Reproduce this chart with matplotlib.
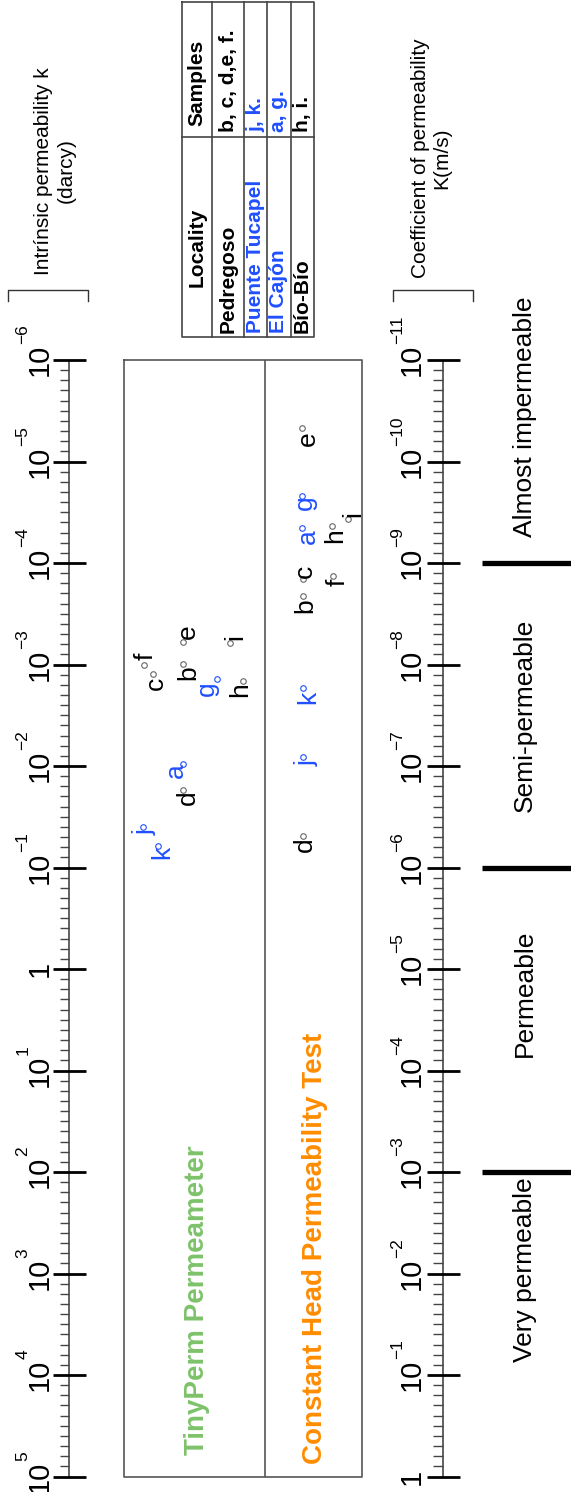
import numpy as np
import matplotlib.pyplot as plt

plt.rcParams['font.family'] = ['Liberation Sans', 'DejaVu Sans']

# --- data: intrinsic permeability k (darcy) per sample and method ---
samples = ['a', 'b', 'c', 'd', 'e', 'f', 'g', 'h', 'i', 'j', 'k']
k_tinyperm = [9.5e-3, 9.9e-4, 1.24e-3, 1.72e-2, 5.96e-4, 1.02e-3,
              1.39e-3, 1.46e-3, 6.2e-4, 3.98e-2, 6.1e-2]
k_constant_head = [4.49e-5, 2.11e-4, 1.45e-4, 4.9e-2, 4.7e-6, 1.33e-4,
                   2.19e-5, 4.3e-5, 3.7e-5, 8.2e-3, 1.72e-3]

localities = ['Pedregoso', 'Puente Tucapel', 'El Cajón', 'Bío-Bío']
locality_samples = ['b, c, d,e, f.', 'j, k.', 'a, g.', 'h, i.']
locality_members = [['b', 'c', 'd', 'e', 'f'], ['j', 'k'], ['a', 'g'], ['h', 'i']]
locality_colors = ['black', '#1f4fff', '#1f4fff', 'black']

class_names = ['Almost impermeable', 'Semi-permeable', 'Permeable', 'Very permeable']
class_limits_K = [1e-9, 1e-6, 1e-3]   # m/s
darcy_to_ms = 1e-5                      # 1 darcy ~ 1e-5 m/s
k_exponents = list(range(-6, 6))        # darcy axis 1e-6 .. 1e5

# --- layout (pixels) ---
W, H = 571, 1492
Y0, PXDEC = 360, 101.5                  # pixel of 1e-6 darcy, pixels per decade

# x position of every sample inside its panel
x_tiny = {'a': 183, 'b': 183, 'c': 153, 'd': 183, 'e': 183, 'f': 144,
          'g': 217, 'h': 243, 'i': 230, 'j': 143, 'k': 158}
x_head = {'a': 302, 'b': 303, 'c': 303, 'd': 303, 'e': 302, 'f': 333,
          'g': 302, 'h': 332, 'i': 348, 'j': 303, 'k': 303}
# letter offset from the point (px): baseline shift in x, centre shift in y
off_tiny = {'a': (0, 7), 'b': (12, 9), 'c': (10, 9), 'd': (12, 8), 'e': (12, -10),
            'f': (9, -9), 'g': (-3, 10), 'h': (4, 8), 'i': (12, -6), 'j': (9, 5),
            'k': (11, 7)}
off_head = {'a': (13, 9), 'b': (9, 10), 'c': (9, -8), 'd': (9, 9), 'e': (13, 10),
            'f': (12, 7), 'g': (10, 7), 'h': (10, 10), 'i': (12, -5), 'j': (11, 6),
            'k': (12, 9)}

color_of = {}
for members, col in zip(locality_members, locality_colors):
    for s in members:
        color_of[s] = col

fig = plt.figure(figsize=(W / 100, H / 100), dpi=100)

# layout axes in pixel units
lay = fig.add_axes([0, 0, 1, 1])
lay.set_xlim(0, W)
lay.set_ylim(H, 0)
lay.axis('off')

# data axes: log scale of k, mapped so 1e-6 sits at Y0
ax = fig.add_axes([0, 0, 1, 1])
ax.set_facecolor('none')
ax.set_yscale('log')
ax.set_xlim(0, W)
ax.set_ylim(10 ** (-6 + (H - Y0) / PXDEC), 10 ** (-6 - Y0 / PXDEC))
ax.axis('off')

k_major = [10.0 ** e for e in k_exponents]
k_minor = [10.0 ** (e + i / 10) for e in k_exponents[:-1] for i in range(1, 10)]
kmin, kmax = k_major[0], k_major[-1]

# --- left (darcy) and right (m/s) scales ---
for xs, xm0, xm1, xn0, txt_x, exp_x, shift in [(69, 53, 86, 60, 40, 23, 0),
                                              (443, 427, 460, 433, 412, 398, 5)]:
    ax.vlines(xs, kmin, kmax, color='#555555', lw=1.3)
    ax.hlines(k_major, xm0, xm1, color='black', lw=2)
    ax.hlines(k_minor, xn0, xs, color='#444444', lw=1)
    for e in k_exponents:
        ee = e - shift
        kk = 10.0 ** e
        if ee == 0:
            ax.text(txt_x, kk, '1', rotation=90, ha='center', va='center', fontsize=21)
            continue
        ax.text(txt_x, kk, '10', rotation=90, ha='center', va='center', fontsize=21)
        ax.annotate(str(ee).replace('-', '\u2212'), xy=(exp_x, kk), xytext=(0, 11.5),
                    textcoords='offset points', rotation=90, ha='center',
                    va='bottom', fontsize=12.5)

# brackets and axis titles
lay.plot([8, 8, 88, 88], [301, 290, 290, 301], color='#333333', lw=1)
lay.plot([393, 393, 473, 473], [301, 290, 290, 301], color='#333333', lw=1)
lay.text(55, 171, 'Intrínsic permeability k\n(darcy)', rotation=90, ha='center',
         va='center', fontsize=15, multialignment='center')
lay.text(431, 158, 'Coefficient of permeability\nK(m/s)', rotation=90, ha='center',
         va='center', fontsize=15, multialignment='center')

# --- panel frame ---
ax.plot([124, 362, 362, 124, 124], [kmin, kmin, kmax, kmax, kmin], color='#555555', lw=1.2)
ax.vlines(265, kmin, kmax, color='#555555', lw=1.2)
lay.text(197, 1300, 'TinyPerm Permeameter', rotation=90, ha='center', va='center',
         fontsize=20, fontweight='bold', color='#7dc36b')
lay.text(315, 1248, 'Constant Head Permeability Test', rotation=90, ha='center',
         va='center', fontsize=20, fontweight='bold', color='#ff8c00')

# --- samples ---
for kvals, xpos, offs in [(k_tinyperm, x_tiny, off_tiny), (k_constant_head, x_head, off_head)]:
    for s, kv in zip(samples, kvals):
        col = color_of[s]
        ax.plot(xpos[s], kv, 'o', ms=4, mfc='white', mew=0.8,
                mec='#666666' if col == 'black' else col)
        dx, dy = offs[s]
        ax.annotate(s, xy=(xpos[s], kv), xytext=(dx * 0.72, -dy * 0.72),
                    textcoords='offset points', rotation=90, rotation_mode='anchor',
                    ha='center', va='baseline', fontsize=19, color=col)

# --- permeability classes ---
ax.hlines([K / darcy_to_ms for K in class_limits_K], 482, W + 5, color='black', lw=3.8)
for name, yy in zip(class_names, [417, 715, 993, 1270]):
    lay.text(525, yy, name, rotation=90, ha='center', va='center', fontsize=19)

# --- locality table ---
rows_x = [182, 212.3, 244, 267.3, 290.7, 314]
lay.plot([182, 314, 314, 182, 182], [2, 2, 337, 337, 2], color='#444444', lw=1.2)
for rx in rows_x[1:-1]:
    lay.plot([rx, rx], [2, 337], color='#444444', lw=1.2)
lay.plot([182, 314], [136.7, 136.7], color='#444444', lw=1.2)
lay.text(197, 247, 'Locality', rotation=90, ha='center', va='center', fontsize=15, fontweight='bold')
lay.text(197, 83, 'Samples', rotation=90, ha='center', va='center', fontsize=15, fontweight='bold')
for i, (loc, smp, col) in enumerate(zip(localities, locality_samples, locality_colors)):
    cx = (rows_x[i + 1] + rows_x[i + 2]) / 2
    lay.text(cx, 333, loc, rotation=90, ha='center', va='bottom', fontsize=15,
             fontweight='bold', color=col)
    lay.text(cx, 132, smp, rotation=90, ha='center', va='bottom', fontsize=15,
             fontweight='bold', color=col)

fig.savefig('out.png', dpi=100)
